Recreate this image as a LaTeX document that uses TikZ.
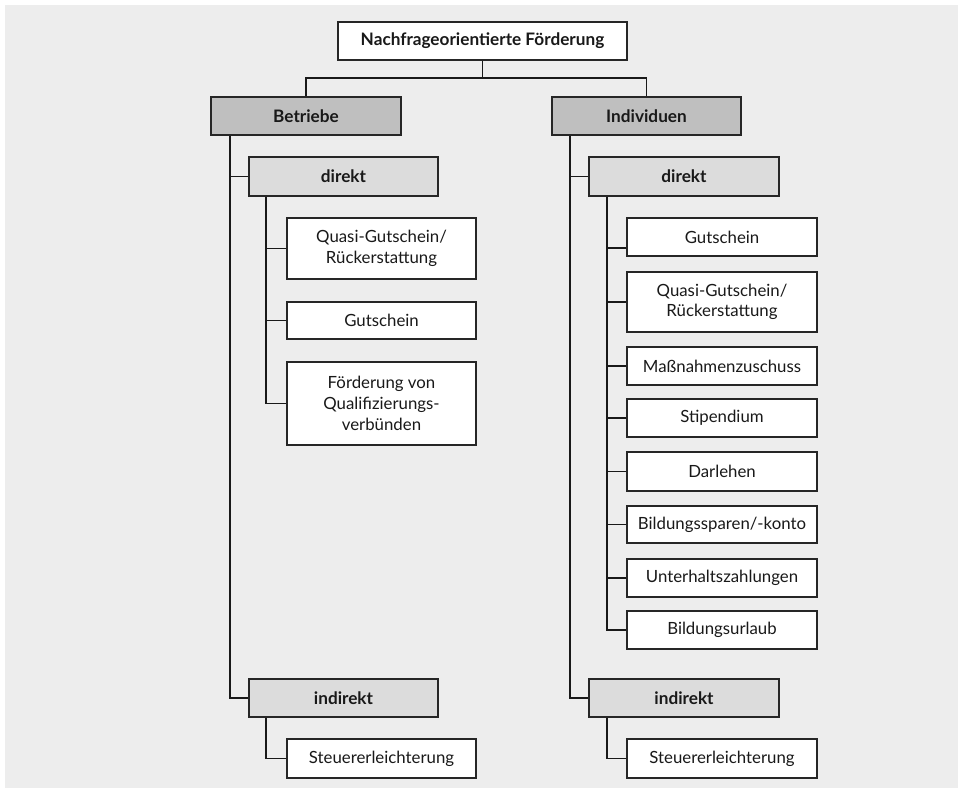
\documentclass[tikz,border=0pt]{standalone}
\usepackage{fontspec}
\setmainfont{Lato}
\definecolor{bg}{HTML}{EDEDED}
\definecolor{lvA}{HTML}{BFBFBF}
\definecolor{lvB}{HTML}{DCDCDC}
\tikzset{
  box/.style={draw=black!85, line width=1pt, inner sep=0pt, align=center,
    font=\fontsize{12.6}{15.5}\selectfont, text=black!90},
  topbox/.style={box, fill=white, font=\fontsize{12.9}{15.5}\selectfont\bfseries},
  lvone/.style={box, fill=lvA, font=\fontsize{12.9}{15.5}\selectfont\bfseries},
  lvtwo/.style={box, fill=lvB, font=\fontsize{12.9}{15.5}\selectfont\bfseries},
  leaf/.style={box, fill=white},
  conn/.style={draw=black!90, line width=1pt},
}
\begin{document}
\begin{tikzpicture}[x=0.75pt, y=-0.75pt]
\useasboundingbox (0,0) rectangle (958,788);
\fill[bg] (5,5) rectangle (958,788);

% nodes
\node[topbox, minimum width=289*0.75pt, minimum height=38*0.75pt] (top) at (482.5,41) {Nachfrageorientierte Förderung};
\node[lvone, minimum width=190*0.75pt, minimum height=38*0.75pt] (bet) at (306,116) {Betriebe};
\node[lvone, minimum width=189*0.75pt, minimum height=38*0.75pt] (ind) at (646.5,116) {Individuen};

\node[lvtwo, minimum width=189*0.75pt, minimum height=39*0.75pt] (dirL) at (343.5,176.5) {direkt};
\node[lvtwo, minimum width=190*0.75pt, minimum height=39*0.75pt] (dirR) at (684,176.5) {direkt};

\node[leaf, minimum width=189*0.75pt, minimum height=61*0.75pt] (quasiL) at (381.5,248.5) {Quasi-Gutschein/\\Rückerstattung};
\node[leaf, minimum width=189*0.75pt, minimum height=37*0.75pt] (gutL) at (381.5,320.5) {Gutschein};
\node[leaf, minimum width=189*0.75pt, minimum height=83*0.75pt] (foeL) at (381.5,403.5) {Förderung von\\Qualifizierungs-\\verbünden};

\node[leaf, minimum width=190*0.75pt, minimum height=38*0.75pt] (gutR) at (722,237) {Gutschein};
\node[leaf, minimum width=190*0.75pt, minimum height=60*0.75pt] (quasiR) at (722,302) {Quasi-Gutschein/\\Rückerstattung};
\node[leaf, minimum width=190*0.75pt, minimum height=38*0.75pt] (mass) at (722,366) {Maßnahmenzuschuss};
\node[leaf, minimum width=190*0.75pt, minimum height=38*0.75pt] (stip) at (722,418) {Stipendium};
\node[leaf, minimum width=190*0.75pt, minimum height=39*0.75pt] (darl) at (722,471.5) {Darlehen};
\node[leaf, minimum width=190*0.75pt, minimum height=37*0.75pt] (spar) at (722,524.5) {Bildungssparen/-konto};
\node[leaf, minimum width=190*0.75pt, minimum height=38*0.75pt] (unter) at (722,578) {Unterhaltszahlungen};
\node[leaf, minimum width=190*0.75pt, minimum height=38*0.75pt] (url) at (722,630) {Bildungsurlaub};

\node[lvtwo, minimum width=189*0.75pt, minimum height=38*0.75pt] (indL) at (343.5,698) {indirekt};
\node[lvtwo, minimum width=190*0.75pt, minimum height=38*0.75pt] (indR) at (684,698) {indirekt};
\node[leaf, minimum width=189*0.75pt, minimum height=39*0.75pt] (steuL) at (381.5,758.5) {Steuererleichterung};
\node[leaf, minimum width=190*0.75pt, minimum height=39*0.75pt] (steuR) at (722,758.5) {Steuererleichterung};

% trunk coordinates
\coordinate (j) at (0,78);
\coordinate (tL) at (230,0);
\coordinate (cL) at (266,0);
\coordinate (tR) at (570,0);
\coordinate (cR) at (607,0);
\coordinate (gutRy) at (0,248);

% connectors
\draw[conn] (top.south) -- (top.south |- j);
\draw[conn] (bet.north) -- (bet.north |- j) -- (ind.north |- j) -- (ind.north);

\draw[conn] (bet.south -| tL) |- (indL.west);
\draw[conn] (tL |- dirL.west) -- (dirL.west);
\draw[conn] (dirL.south -| cL) |- (foeL.west);
\draw[conn] (cL |- quasiL.west) -- (quasiL.west);
\draw[conn] (cL |- gutL.west) -- (gutL.west);
\draw[conn] (indL.south -| cL) |- (steuL.west);

\draw[conn] (ind.south -| tR) |- (indR.west);
\draw[conn] (tR |- dirR.west) -- (dirR.west);
\draw[conn] (dirR.south -| cR) |- (url.west);
\draw[conn] (cR |- gutRy) -- (gutR.west |- gutRy);
\draw[conn] (cR |- quasiR.west) -- (quasiR.west);
\draw[conn] (cR |- mass.west) -- (mass.west);
\draw[conn] (cR |- stip.west) -- (stip.west);
\draw[conn] (cR |- darl.west) -- (darl.west);
\draw[conn] (cR |- spar.west) -- (spar.west);
\draw[conn] (cR |- unter.west) -- (unter.west);
\draw[conn] (indR.south -| cR) |- (steuR.west);
\end{tikzpicture}
\end{document}
